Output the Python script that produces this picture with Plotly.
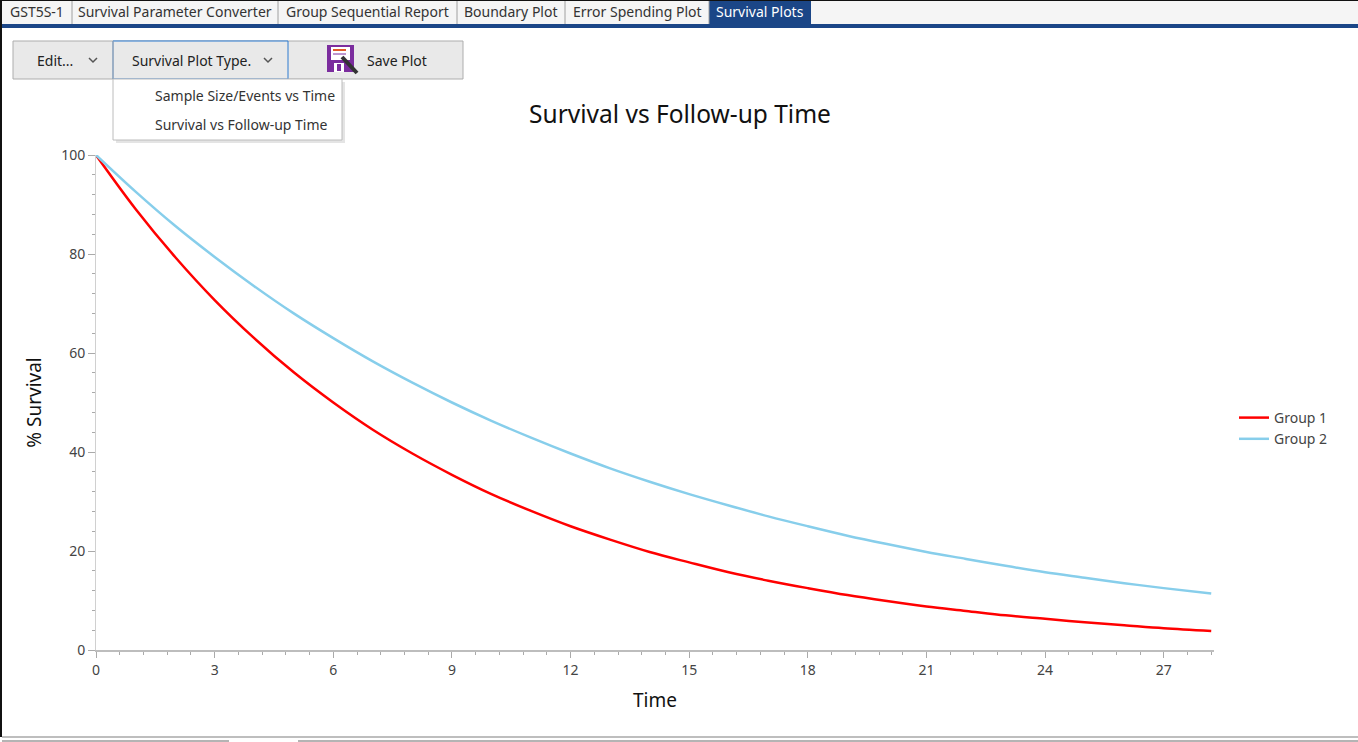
import plotly.graph_objects as go

# values
time_points = [0, 1, 2, 3, 4, 5, 6, 7, 8, 9, 10, 11, 12, 13, 14, 15, 16, 17, 18, 19,
               20, 21, 22, 23, 24, 25, 26, 27, 28.2]
group1_survival = [100, 89.1, 79.4, 70.7, 63.0, 56.1, 50.0, 44.5, 39.7, 35.4, 31.5, 28.1,
                   25.0, 22.3, 19.8, 17.7, 15.7, 14.0, 12.5, 11.1, 9.9, 8.8, 7.9, 7.0,
                   6.3, 5.6, 5.0, 4.4, 3.85]
group2_survival = [100, 92.6, 85.7, 79.4, 73.5, 68.0, 63.0, 58.3, 54.0, 50.0, 46.3, 42.9,
                   39.7, 36.7, 34.0, 31.5, 29.2, 27.0, 25.0, 23.1, 21.4, 19.8, 18.4, 17.0,
                   15.7, 14.6, 13.5, 12.5, 11.4]
x_ticks = [0, 3, 6, 9, 12, 15, 18, 21, 24, 27]
y_ticks = [0, 20, 40, 60, 80, 100]
tab_labels = ["GST5S-1", "Survival Parameter Converter", "Group Sequential Report",
              "Boundary Plot", "Error Spending Plot", "Survival Plots"]
menu_items = ["Sample Size/Events vs Time", "Survival vs Follow-up Time"]

W, H = 1358, 742
L, R, T, B = 96, 1214, 155, 650
FONT = "Noto Sans"


def px(x):
    return (x - L) / (R - L)


def py(y):
    return (B - y) / (B - T)


shapes = []
annotations = []


def rect(x0, y0, x1, y1, fill=None, line=None, width=1):
    shapes.append(dict(type="rect", xref="paper", yref="paper",
                       x0=px(x0), x1=px(x1), y0=py(y1), y1=py(y0),
                       fillcolor=fill or "rgba(0,0,0,0)",
                       line=dict(color=line or "rgba(0,0,0,0)", width=width if line else 0),
                       layer="below"))


def hline(x0, x1, y, color, width=1):
    shapes.append(dict(type="line", xref="paper", yref="paper",
                       x0=px(x0), x1=px(x1), y0=py(y), y1=py(y),
                       line=dict(color=color, width=width)))


def vline(x, y0, y1, color, width=1):
    shapes.append(dict(type="line", xref="paper", yref="paper",
                       x0=px(x), x1=px(x), y0=py(y0), y1=py(y1),
                       line=dict(color=color, width=width)))


def text(x, y, s, size=14, color="#333333", anchor="left"):
    annotations.append(dict(x=px(x), y=py(y), xref="paper", yref="paper", text=s,
                            showarrow=False, xanchor=anchor, yanchor="middle",
                            font=dict(family=FONT, size=size, color=color)))


def chevron(cx, cy, color="#555555"):
    shapes.append(dict(type="path", xref="paper", yref="paper",
                       path=f"M {px(cx-4)} {py(cy-2)} L {px(cx)} {py(cy+2)} L {px(cx+4)} {py(cy-2)}",
                       line=dict(color=color, width=1.5)))


# window frame
vline(1, 0, 737, "#111111", 2)
hline(0, W, 0.5, "#111111", 1)

# tab strip
rect(2, 1, W, 24, fill="#f5f5f5")
rect(0, 24, W, 28, fill="#1b4687")
tab_edges = [2, 72, 278, 457, 565, 709, 811]
for i, lab in enumerate(tab_labels):
    x0, x1 = tab_edges[i], tab_edges[i + 1]
    if i == len(tab_labels) - 1:
        rect(x0, 1, x1, 25, fill="#1b4687")
        text((x0 + x1) / 2, 12, lab, 14, "#ffffff", "center")
    else:
        vline(x1, 1, 24, "#a0a0a0")
        text((x0 + x1) / 2, 12, lab, 14, "#333333", "center")

# toolbar buttons
rect(13, 41, 463, 79, fill="#e9e9e9", line="#adadad")
vline(113, 41, 79, "#adadad")
rect(113, 41, 288, 79, fill="#e9e9e9", line="#2c7bd0")
text(35, 60, "Edit...", 14, "#222222")
chevron(93, 60)
text(130, 60, "Survival Plot Type.", 14, "#222222")
chevron(268, 60)
text(365, 60, "Save Plot", 14, "#222222")

# floppy icon
rect(327, 45, 354, 72, fill="#7b2d9e")
rect(331, 47, 350, 60, fill="#ffffff")
hline(333, 346, 50, "#e05a2a", 2)
hline(333, 346, 54, "#7b2d9e", 1)
rect(334, 63, 344, 72, fill="#ffffff")
rect(337, 64, 341, 71, fill="#7b2d9e")
shapes.append(dict(type="line", xref="paper", yref="paper",
                   x0=px(342), y0=py(57), x1=px(357), y1=py(73),
                   line=dict(color="#333333", width=4)))

# dropdown menu
rect(116, 82, 345, 143, fill="#e4e4e4")
rect(113, 79, 342, 140, fill="#ffffff", line="#bcbcbc")
text(153, 96, menu_items[0], 14, "#333333")
text(153, 124, menu_items[1], 14, "#333333")

# bottom bar
hline(2, W, 737, "#a8a8a8", 1.5)
hline(2, 229, 741, "#b4b4b4", 2)
hline(298, W, 741, "#b4b4b4", 2)

fig = go.Figure()
fig.add_trace(go.Scatter(x=time_points, y=group1_survival, name="Group 1", mode="lines",
                         line=dict(color="#ff0000", width=2.5, shape="spline")))
fig.add_trace(go.Scatter(x=time_points, y=group2_survival, name="Group 2", mode="lines",
                         line=dict(color="#87ceeb", width=2.5, shape="spline")))

axis_font = dict(family=FONT, size=14, color="#444444")
fig.update_layout(
    width=W, height=H,
    margin=dict(l=L, r=W - R, t=T, b=H - B, pad=0),
    paper_bgcolor="white", plot_bgcolor="white",
    title=dict(text="Survival vs Follow-up Time", x=px(680), xanchor="center",
               xref="paper", y=1 - 114 / H, yanchor="middle",
               font=dict(family=FONT, size=24.5, color="#111111")),
    showlegend=True,
    legend=dict(x=px(1234), y=py(402), xanchor="left", yanchor="top",
                font=dict(family=FONT, size=14, color="#444444"),
                bgcolor="rgba(0,0,0,0)", itemwidth=30, tracegroupgap=4),
    shapes=shapes,
    annotations=annotations,
    xaxis=dict(range=[0, 28.27], tickvals=x_ticks, showgrid=False, zeroline=False,
               showline=True, linecolor="#bdbdbd", linewidth=2,
               ticks="outside", ticklen=6, tickcolor="#aaaaaa", tickfont=axis_font,
               minor=dict(dtick=0.6, tick0=0, ticks="outside", ticklen=3, tickcolor="#aaaaaa"),
               title=dict(text="Time", font=dict(family=FONT, size=19, color="#111111"),
                          standoff=16)),
    yaxis=dict(range=[0, 100], tickvals=y_ticks, showgrid=False, zeroline=False,
               showline=True, linecolor="#d0d0d0", linewidth=1,
               ticks="outside", ticklen=7, tickcolor="#aaaaaa", tickfont=axis_font,
               minor=dict(dtick=4, tick0=0, ticks="outside", ticklen=3, tickcolor="#aaaaaa"),
               title=dict(text="% Survival", font=dict(family=FONT, size=19, color="#111111"),
                          standoff=14)),
)

fig.write_html("out.html", config={"displayModeBar": False},
               post_script="document.body.style.margin='0';document.body.style.overflow='hidden';")
